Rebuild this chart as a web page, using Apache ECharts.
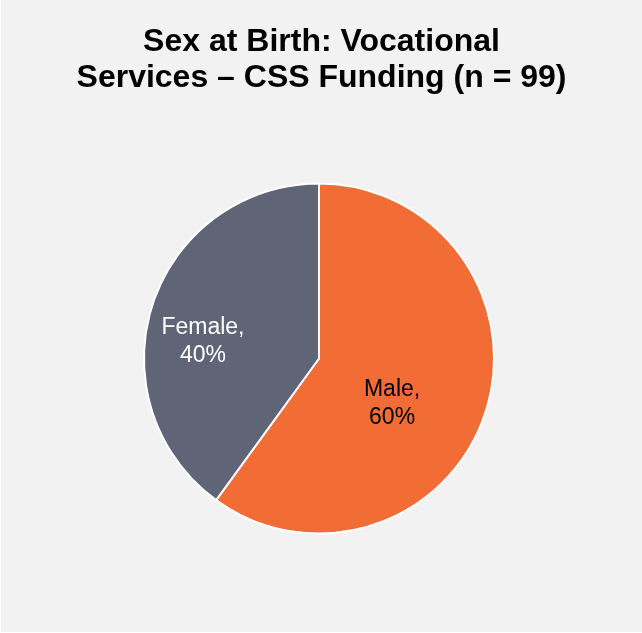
<!DOCTYPE html>
<html>
<head>
<meta charset="utf-8">
<script src="https://cdn.jsdelivr.net/npm/echarts@6/dist/echarts.min.js"></script>
<style>
  html, body { margin: 0; padding: 0; background: #ffffff; }
  #chart { position: absolute; left: 1px; top: 0; width: 641px; height: 632px; background: #f2f2f2; }
</style>
</head>
<body>
<div id="chart"></div>
<script>
var titleText = 'Sex at Birth: Vocational\nServices \u2013 CSS Funding (n = 99)';
var categories = ['Male', 'Female'];
var percents = [60, 40];
var sliceColors = ['#f26c36', '#5f6577'];
var labelColors = ['#000000', '#ffffff'];
var labelOffsets = [[-13, 17], [-30, 11]];

var chart = echarts.init(document.getElementById('chart'));

var pieData = categories.map(function (name, i) {
    return {
        name: name,
        value: percents[i],
        itemStyle: { color: sliceColors[i] },
        label: { color: labelColors[i], offset: labelOffsets[i] }
    };
});

chart.setOption({
    backgroundColor: '#f2f2f2',
    animation: false,
    title: {
        text: titleText,
        left: 'center',
        top: 19,
        textStyle: {
            fontFamily: 'Liberation Sans, Arial, sans-serif',
            fontWeight: 'bold',
            fontSize: 32,
            lineHeight: 36,
            color: '#000000'
        }
    },
    series: [{
        type: 'pie',
        center: [318, 358.5],
        radius: [0, 175],
        startAngle: 90,
        clockwise: true,
        data: pieData,
        itemStyle: { borderColor: '#ffffff', borderWidth: 2 },
        label: {
            show: true,
            position: 'inside',
            fontFamily: 'Liberation Sans, Arial, sans-serif',
            fontSize: 23,
            lineHeight: 28,
            formatter: function (p) { return p.name + ',\n' + p.value + '%'; }
        },
        labelLine: { show: false },
        emphasis: { disabled: true }
    }]
});
</script>
</body>
</html>
